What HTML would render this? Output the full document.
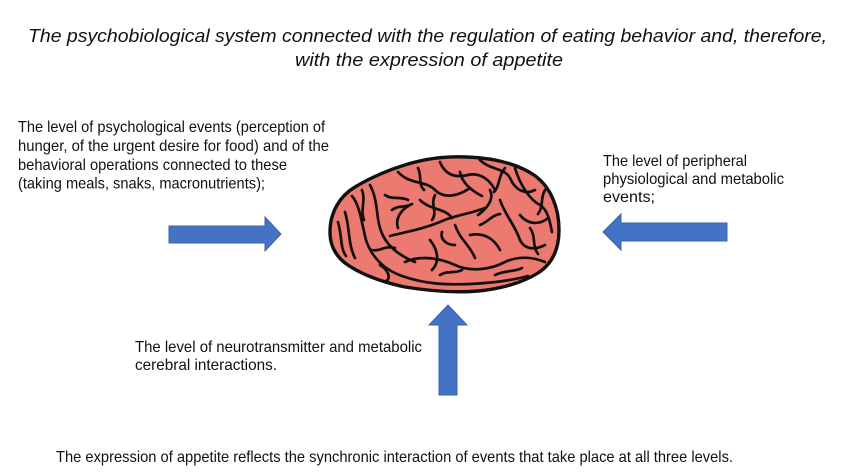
<!DOCTYPE html>
<html>
<head>
<meta charset="utf-8">
<style>
html,body{margin:0;padding:0;background:#ffffff;}
body{width:848px;height:476px;overflow:hidden;}
svg{display:block;}
.t{font-family:"Liberation Sans",Arial,sans-serif;font-size:16px;fill:#111;}
.ti{font-family:"Liberation Sans",Arial,sans-serif;font-size:18px;font-style:italic;fill:#111;}
</style>
</head>
<body>
<svg width="848" height="476" viewBox="0 0 848 476" xmlns="http://www.w3.org/2000/svg">
<rect x="0" y="0" width="848" height="476" fill="#ffffff"/>

<!-- Title -->
<text class="ti" x="28" y="42" textLength="799" lengthAdjust="spacingAndGlyphs">The psychobiological  system connected with the regulation of eating behavior and, therefore,</text>
<text class="ti" x="295" y="66" textLength="268" lengthAdjust="spacingAndGlyphs">with the expression  of appetite</text>

<!-- Left text -->
<text class="t" x="18" y="132" textLength="307" lengthAdjust="spacingAndGlyphs">The level of psychological events (perception of</text>
<text class="t" x="18" y="151" textLength="311" lengthAdjust="spacingAndGlyphs">hunger, of the urgent desire for food) and of the</text>
<text class="t" x="18" y="170" textLength="269" lengthAdjust="spacingAndGlyphs">behavioral operations connected to these</text>
<text class="t" x="18" y="188.5" textLength="247" lengthAdjust="spacingAndGlyphs">(taking meals, snaks, macronutrients);</text>

<!-- Right text -->
<text class="t" x="603" y="166" textLength="144" lengthAdjust="spacingAndGlyphs">The level of peripheral</text>
<text class="t" x="603" y="184" textLength="181" lengthAdjust="spacingAndGlyphs">physiological and metabolic</text>
<text class="t" x="603" y="202" textLength="52" lengthAdjust="spacingAndGlyphs">events;</text>

<!-- Bottom-middle text -->
<text class="t" x="135" y="352" textLength="287" lengthAdjust="spacingAndGlyphs">The level of neurotransmitter and metabolic</text>
<text class="t" x="135" y="370" textLength="142" lengthAdjust="spacingAndGlyphs">cerebral interactions.</text>

<!-- Caption -->
<text class="t" x="56" y="462" textLength="677" lengthAdjust="spacingAndGlyphs">The expression of appetite reflects the synchronic interaction of events that take place at all three levels.</text>

<!-- Arrows -->
<polygon points="169,226 265,226 265,217 281,234 265,251 265,243 169,243" fill="#4472C4" stroke="#3A64AE" stroke-width="1"/>
<polygon points="603,232 621,214 621,223 727,223 727,241 621,241 621,250" fill="#4472C4" stroke="#3A64AE" stroke-width="1"/>
<polygon points="448,305 467,325 457,325 457,395 439,395 439,325 429,325" fill="#4472C4" stroke="#3A64AE" stroke-width="1"/>

<!-- Brain -->
<g stroke-linecap="round" stroke-linejoin="round">
<path d="M330,232 C330,212 340,196 355,187 C370,178 388,170 408,164 C428,158 447,156 467,157 C492,158 516,163 534,175 C551,187 559,208 559,230 C559,250 552,264 538,273 C522,283 500,289 478,291 C455,293 430,291 405,287 C382,282 360,274 345,263 C335,255 330,244 330,232 Z" fill="#EC7A70" stroke="#111" stroke-width="3.4"/>
<g fill="none" stroke="#151010" stroke-width="2.7">
<path d="M352,196 C360,205 362,225 366,240 C372,258 385,270 402,276 C425,284 445,285 470,284 C490,283 510,281 528,276"/>
<path d="M370,185 C378,200 376,215 380,228 C385,245 398,255 415,262"/>
<path d="M390,236 C405,232 420,230 440,222 C455,215 470,214 485,208"/>
<path d="M405,262 C420,255 440,258 455,265 C470,272 490,270 505,262 C520,255 535,258 545,262"/>
<path d="M398,172 C410,185 425,180 435,190 C445,200 460,195 470,188"/>
<path d="M440,162 C445,175 455,178 468,175 C480,172 490,180 495,190"/>
<path d="M480,160 C490,170 505,168 510,178 C515,190 525,195 535,190"/>
<path d="M515,168 C520,185 530,200 540,205 C548,210 550,222 552,232"/>
<path d="M500,200 C505,215 515,225 520,240 C525,250 535,250 545,245"/>
<path d="M455,225 C460,240 470,245 475,258"/>
<path d="M420,200 C430,210 445,208 452,218"/>
<path d="M372,250 C380,252 385,245 395,248"/>
<path d="M345,212 C350,228 348,245 355,258"/>
<path d="M470,235 C485,232 495,240 500,250"/>
<path d="M520,215 C528,225 540,225 548,218"/>
<path d="M430,240 C438,250 440,262 432,270"/>
<path d="M490,190 C495,200 485,210 478,215"/>
<path d="M410,205 C400,210 395,220 398,228"/>
<path d="M385,195 C392,200 400,196 408,200"/>
<path d="M460,172 C462,182 470,190 482,196"/>
<path d="M530,228 C536,236 532,246 538,254"/>
<path d="M380,265 C388,270 392,278 385,282"/>
<path d="M455,245 C445,245 440,238 442,232"/>
<path d="M338,222 C342,235 340,248 346,256"/>
<path d="M362,190 C366,200 360,210 364,220"/>
<path d="M418,168 C422,176 418,184 424,190"/>
<path d="M505,168 C498,176 500,186 494,192"/>
<path d="M545,190 C540,198 544,206 538,214"/>
<path d="M480,225 C488,222 492,215 500,214"/>
<path d="M495,275 C505,270 515,272 522,268"/>
<path d="M440,275 C448,270 455,274 462,270"/>
<path d="M392,210 C398,205 405,208 412,204"/>
<path d="M435,195 C430,205 438,212 432,220"/>
</g>
</g>
</svg>
</body>
</html>
